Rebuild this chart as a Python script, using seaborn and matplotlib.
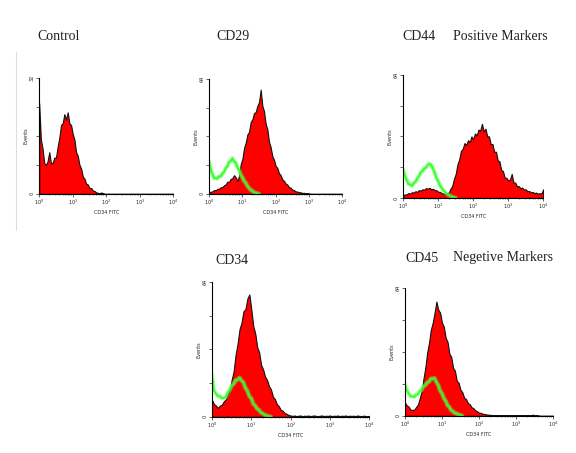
import numpy as np
import pandas as pd
import seaborn as sns
import matplotlib.pyplot as plt
from matplotlib.lines import Line2D

# channel positions (log10 of fluorescence), step 0.05 from 10^0 to 10^4
log_channels = np.round(np.arange(0, 4.0001, 0.05), 2)

# red = stained sample, green = isotype control (Events per channel)
control_red = [25, 15, 12.5, 8.5, 8, 9, 11.5, 8.5, 8.5, 10, 10, 13, 15.5, 19, 19.5, 22, 20.5, 22.5, 19.5, 19,
               16.5, 15, 11.5, 10.5, 8, 7, 4.8, 4.2, 2.8, 2.6, 1.6, 1.6, 0.9, 0.8, 0.4, 0.3, 0.1, 0.4, 0.2, 0,
               0, 0, 0, 0, 0, 0, 0, 0, 0, 0, 0, 0, 0, 0, 0, 0, 0, 0, 0, 0,
               0, 0, 0, 0, 0, 0, 0, 0, 0, 0, 0, 0, 0, 0, 0, 0, 0, 0, 0, 0, 0]

cd29_red = [0.5, 1.2, 1.4, 2.2, 2, 2.8, 2.9, 3.7, 3.8, 4.8, 5.3, 6.8, 6.7, 8.4, 8.7, 10.4, 9.2, 7.2, 10, 16.5,
            19.5, 25.5, 28.5, 33, 34.5, 40, 41.5, 45, 45.5, 49, 51, 58, 49, 46, 39, 36, 29, 26, 21, 19,
            15.5, 14.5, 11.5, 10.5, 8, 7.3, 5.7, 5.2, 3.8, 3.4, 2.3, 2.1, 1.4, 1.3, 0.9, 0.9, 0.5, 0.6, 0.3, 0.4,
            0.2, 0, 0, 0, 0, 0, 0, 0, 0, 0, 0, 0, 0, 0, 0, 0, 0, 0, 0, 0, 0]
cd29_green = [18, 13.5, 11, 8.7, 8.8, 8.5, 9.8, 9.7, 11.3, 12.2, 14.3, 15.2, 17.8, 18.2, 19.8, 18.2, 17.3, 14.7, 13.3, 10.7,
              9.2, 7.3, 6.2, 4.4, 3.3, 2.2, 1.7, 0.9, 0.6, 0.3, 0]

cd44_red = [1.5, 1.8, 1.9, 2.5, 2.3, 3, 2.8, 3.5, 3.2, 4.1, 3.8, 4.5, 4.3, 5.1, 4.8, 5.3, 4.5, 4.8, 4, 4,
            3.2, 3.2, 2.4, 2.4, 1.8, 2.4, 2.8, 4.8, 6.2, 10, 12.5, 17.5, 20, 24.5, 25.5, 28.5, 27.5, 30, 29, 32,
            30.5, 33.5, 32.5, 35.5, 35, 38.5, 34.5, 36, 32, 32, 28, 28, 24, 24, 19.5, 19, 14.5, 14, 10.5, 10.5,
            9, 9.5, 12.5, 8, 8, 6, 6.2, 5, 5.4, 4.3, 4.5, 3.5, 3.6, 2.9, 3.1, 2.5, 2.8, 2.2, 2.5, 2.3, 4.5]
cd44_green = [14.5, 11.5, 9.3, 7.2, 7, 6.4, 7.7, 8.3, 10, 11.3, 13.2, 14, 15.2, 15.8, 17.2, 17.8, 17.2, 15.3, 13.2, 10.3,
              8.7, 6.4, 5.2, 3.8, 3.1, 2.1, 1.6, 0.9, 0.6, 0.3, 0]

cd34_red = [8, 6, 5.3, 4.2, 5.3, 5.7, 7.3, 8.2, 10.5, 12.5, 17.5, 21.5, 29.5, 34.5, 41.5, 44.5, 50, 51, 56, 58,
            51, 43, 39.5, 33, 30.5, 24.5, 22.5, 19, 17.5, 14.5, 13, 9.5, 8.4, 6, 5, 3.3, 2.8, 1.7, 1.4, 0.8,
            0.6, 0.4, 0.6, 0.3, 0.5, 0.6, 0.3, 0.5, 0.4, 0.6, 0.3, 0.5, 0.6, 0.4, 0.3, 0.5, 0.6, 0.3, 0.5, 0.4,
            0.6, 0.3, 0.5, 0.4, 0.6, 0.3, 0.5, 0.4, 0.6, 0.3, 0.5, 0.4, 0.5, 0.3, 0.6, 0.4, 0.3, 0.5, 0.4, 0.3, 0.4]
cd34_green = [20, 12.5, 11, 9.7, 9.8, 8.8, 9, 9.3, 11.3, 12.7, 14.8, 15.5, 17.3, 17.5, 18.5, 17.2, 16.3, 13.7, 12.3, 9.7,
              8.8, 6.2, 5.2, 3.8, 3.1, 1.9, 1.5, 0.8, 0.5, 0.2, 0]

cd45_red = [6.5, 5.2, 4.6, 3, 3, 3.1, 4.4, 5.6, 8.8, 12.2, 18.5, 24, 31.5, 36.5, 43, 46.5, 51.5, 57, 53, 51.5,
            46.5, 44.5, 39, 37, 31, 29.5, 24, 22.5, 17.5, 16.5, 13, 11.8, 9, 8.4, 6.4, 5.8, 4.3, 3.8, 2.7, 2.3,
            1.6, 1.5, 1, 0.9, 0.7, 0.6, 0.5, 0.4, 0.3, 0.4, 0.3, 0.3, 0.4, 0.3, 0.3, 0.4, 0.3, 0.3, 0.3, 0.4,
            0.3, 0.3, 0.4, 0.3, 0.3, 0.3, 0.4, 0.3, 0.3, 0.6, 0.3, 0.3, 0.2, 0, 0, 0, 0, 0, 0, 0, 0]
cd45_green = [16, 12.7, 11.3, 9.8, 9.7, 9.4, 10.5, 10.8, 12.3, 13, 14.9, 15.2, 16.6, 17, 18.5, 18.6, 18.8, 16.9, 15.3, 12.6,
              11.3, 8.9, 7.5, 5.3, 4.4, 2.8, 2.2, 1.4, 1.1, 0.6, 0.4, 0]

panels = [
    # name, red, green, ymax, axes rect
    ("Control", control_red, None, 32, [0.068, 0.572, 0.233, 0.256]),
    ("CD29", cd29_red, cd29_green, 64, [0.363, 0.572, 0.231, 0.254]),
    ("CD44", cd44_red, cd44_green, 64, [0.700, 0.563, 0.243, 0.272]),
    ("CD34", cd34_red, cd34_green, 64, [0.368, 0.080, 0.273, 0.298]),
    ("CD45", cd45_red, cd45_green, 64, [0.703, 0.082, 0.257, 0.283]),
]

sns.set_style("ticks")
fig = plt.figure(figsize=(5.76, 4.53), dpi=100)

for name, red, green, ymax, rect in panels:
    ax = fig.add_axes(rect)
    df = pd.DataFrame({"fitc": 10 ** log_channels, "events": red})
    sns.histplot(data=df, x="fitc", weights="events", log_scale=True, binwidth=0.05,
                 binrange=(-0.025, 4.025), element="poly", fill=True, color="#ff0000",
                 alpha=1, edgecolor="#111111", linewidth=0.8, ax=ax)
    if green is not None:
        gdf = pd.DataFrame({"fitc": 10 ** log_channels[:len(green)], "events": green})
        # soft halo plus a brighter core, like the blurred isotype trace
        sns.lineplot(data=gdf, x="fitc", y="events", color="#66ff66", linewidth=3.2,
                     alpha=0.5, ax=ax)
        sns.lineplot(data=gdf, x="fitc", y="events", color="#33ff22", linewidth=1.4,
                     alpha=0.95, ax=ax)
    ax.set_xlim(1, 1e4)
    ax.set_ylim(0, ymax)
    ax.set_xticks([1, 10, 100, 1000, 10000])
    ax.set_yticks([0, ymax / 4, ymax / 2, 3 * ymax / 4, ymax])
    ax.set_yticklabels(["0", "", "", "", str(ymax)], rotation=90, va="center")
    ax.tick_params(labelsize=3.5, length=2, width=0.5, pad=1)
    ax.tick_params(which="minor", length=1, width=0.4)
    ax.set_xlabel("CD34 FITC", fontsize=3.5, labelpad=2)
    ax.set_ylabel("Events", fontsize=3.5, labelpad=1)
    sns.despine(ax=ax)
    for sp in ax.spines.values():
        sp.set_linewidth(0.8)
        sp.set_color("black")

title_kw = dict(fontsize=10, family="Liberation Serif", color="#222222", va="center")
fig.text(37 / 576, 1 - 37 / 453, "Control", **title_kw)
fig.text(216 / 576, 1 - 37 / 453, "CD29", **title_kw)
fig.text(402 / 576, 1 - 37 / 453, "CD44", **title_kw)
fig.text(453 / 576, 1 - 37 / 453, "Positive Markers", **title_kw)
fig.text(215 / 576, 1 - 260 / 453, "CD34", **title_kw)
fig.text(405 / 576, 1 - 258 / 453, "CD45", **title_kw)
fig.text(453 / 576, 1 - 258 / 453, "Negetive Markers", **title_kw)

# faint crop edge on the left of the scanned figure
fig.add_artist(Line2D([16 / 576, 16 / 576], [1 - 52 / 453, 1 - 230 / 453], color="#dddddd", lw=0.8))

fig.savefig("out.png", dpi=100)
